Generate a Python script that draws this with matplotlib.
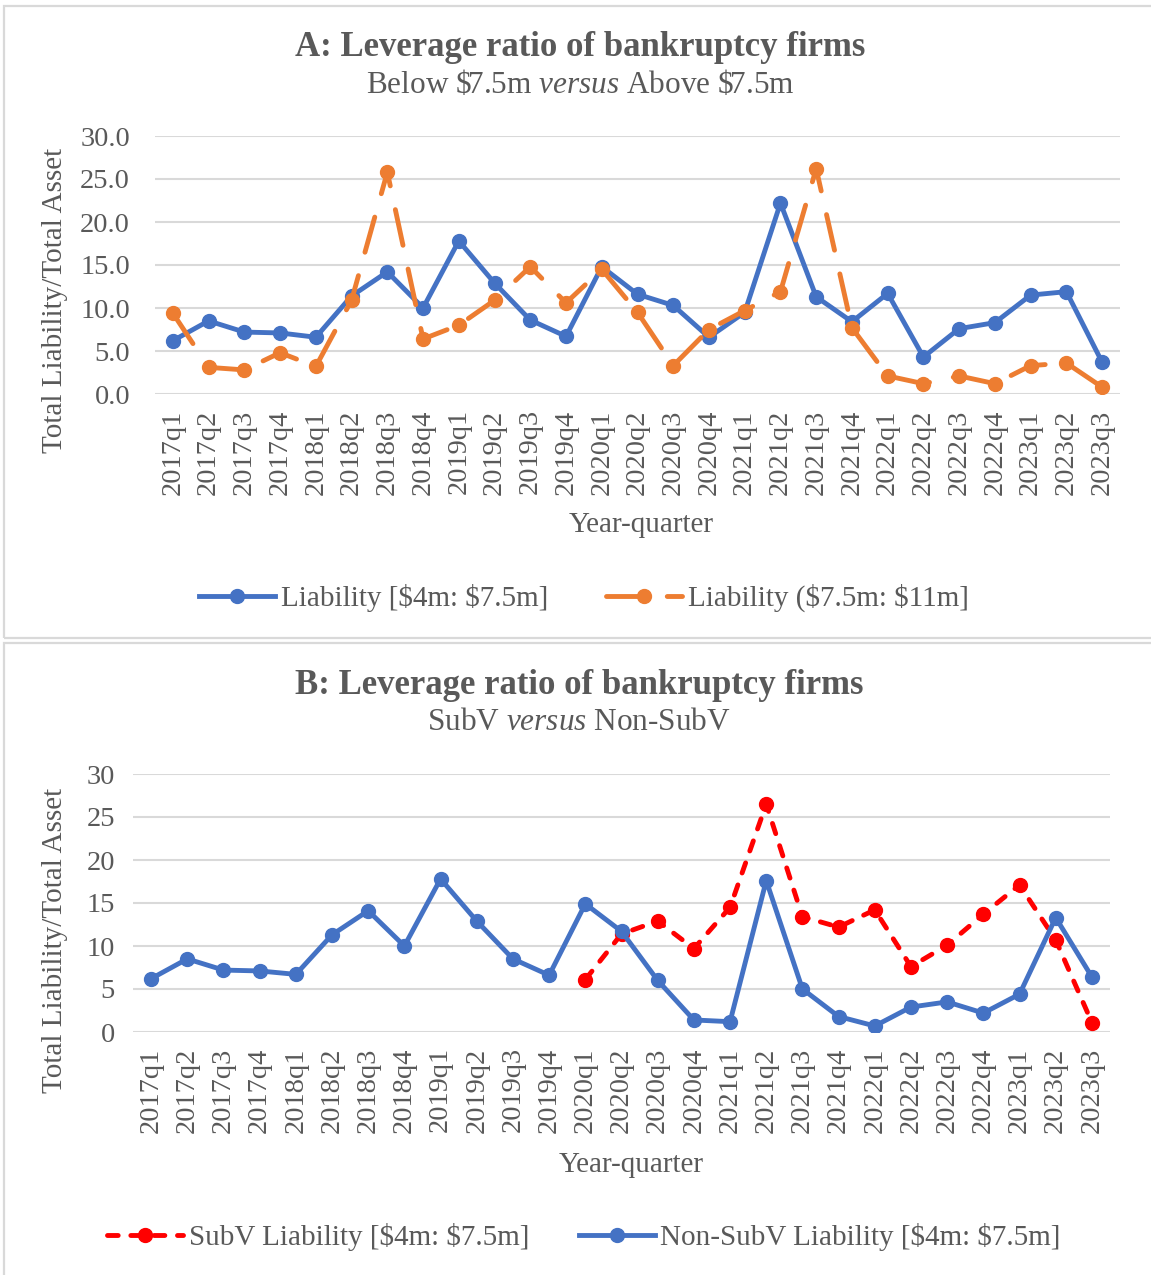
import numpy as np
import matplotlib
matplotlib.use("Agg")
import matplotlib.pyplot as plt
from matplotlib.patches import Rectangle

quarters = [f"{y}q{q}" for y in range(2017, 2024) for q in range(1, 5)][:27]

# panel A
liab_low = [6.2, 8.5, 7.2, 7.1, 6.6, 11.4, 14.2, 10.0, 17.8, 12.9, 8.6, 6.7, 14.8,
            11.6, 10.3, 6.6, 9.5, 22.2, 11.3, 8.4, 11.7, 4.3, 7.6, 8.3, 11.5, 11.9, 3.7]
liab_high = [9.4, 3.1, 2.8, 4.8, 3.2, 10.9, 25.8, 6.4, 8.0, 10.9, 14.8, 10.6, 14.5,
             9.5, 3.3, 7.5, 9.7, 11.9, 26.2, 7.7, 2.1, 1.2, 2.1, 1.2, 3.3, 3.6, 0.8]

# panel B
subv = [np.nan] * 12 + [6.1, 11.4, 12.9, 9.7, 14.5, 26.5, 13.4, 12.2, 14.2, 7.6,
                        10.1, 13.7, 17.1, 10.7, 1.1]
non_subv = [6.2, 8.5, 7.2, 7.1, 6.7, 11.3, 14.1, 10.0, 17.8, 12.9, 8.5, 6.6, 14.9,
            11.7, 6.0, 1.4, 1.2, 17.6, 5.0, 1.8, 0.7, 2.9, 3.5, 2.2, 4.4, 13.3, 6.4]

W, H = 1151, 1275
GRAY = "#595959"
BLUE, ORANGE, RED = "#4472C4", "#ED7D31", "#FF0000"
plt.rcParams.update({"font.family": "Liberation Serif", "mathtext.fontset": "custom",
                     "mathtext.rm": "Liberation Serif", "mathtext.it": "Liberation Serif:italic",
                     "text.color": GRAY})

fig = plt.figure(figsize=(W / 100, H / 100), dpi=100)


def fx(x):
    return x / W


def fy(y):
    return 1 - y / H


# panel borders
fig.add_artist(Rectangle((fx(4), fy(637.5)), 1.2, fy(5.5) - fy(637.5), transform=fig.transFigure,
                         fill=False, ec="#d9d9d9", lw=1.6))
fig.add_artist(Rectangle((fx(4), -0.1), 1.2, fy(643) + 0.1, transform=fig.transFigure,
                         fill=False, ec="#d9d9d9", lw=1.6))


def setup(ax, fmt, pad):
    ax.set_xlim(-0.5, 26.5)
    ax.set_ylim(0, 30)
    ax.set_yticks(range(0, 31, 5))
    ax.set_yticklabels([fmt.format(v) for v in range(0, 31, 5)])
    ax.set_xticks(range(27))
    ax.set_xticklabels(quarters, rotation=90)
    ax.tick_params(length=0, labelsize=20.5, labelcolor=GRAY)
    ax.tick_params(axis="y", pad=pad)
    ax.tick_params(axis="x", pad=11)
    for s in ax.spines.values():
        s.set_visible(False)
    ax.grid(True, axis="y", color="#d9d9d9", lw=1.5)
    ax.set_axisbelow(True)


x = np.arange(27)
lw, ms = 3.5, 10

axA = fig.add_axes([fx(155), fy(394), fx(1120) - fx(155), fy(136) - fy(394)])
setup(axA, "{:.1f}", 18)
axA.plot(x, liab_low, color=BLUE, lw=lw, marker="o", ms=ms, label="Liability [$4m: $7.5m]".replace("$", r"\$"))
axA.plot(x, liab_high, color=ORANGE, lw=lw, marker="o", ms=ms, dashes=(7.5, 5),
         dash_capstyle="round", label="Liability ($7.5m: $11m]".replace("$", r"\$"))
axA.legend(loc="center", bbox_to_anchor=(fx(584), fy(598)), bbox_transform=fig.transFigure,
           ncol=2, frameon=False, fontsize=21, handlelength=2.6, handletextpad=0.2,
           columnspacing=2.0, labelcolor=GRAY)

axB = fig.add_axes([fx(133), fy(1032), fx(1110) - fx(133), fy(774) - fy(1032)])
setup(axB, "{:d}", 13)
axB.plot(x, subv, color=RED, lw=lw, marker="o", ms=ms, dashes=(2.2, 2.6),
         dash_capstyle="round", label="SubV Liability [$4m: $7.5m]".replace("$", r"\$"))
axB.plot(x, non_subv, color=BLUE, lw=lw, marker="o", ms=ms,
         label="Non-SubV Liability [$4m: $7.5m]".replace("$", r"\$"))
axB.legend(loc="center", bbox_to_anchor=(fx(584), fy(1237)), bbox_transform=fig.transFigure,
           ncol=2, frameon=False, fontsize=21, handlelength=2.6, handletextpad=0.2,
           columnspacing=1.7, labelcolor=GRAY)

# titles and axis labels
fig.text(fx(580), fy(47), "A: Leverage ratio of bankruptcy firms", ha="center", va="center",
         fontsize=25, fontweight="bold")
fig.text(fx(580), fy(85), r"Below \$7.5m $\mathit{versus}$ Above \$7.5m", ha="center",
         va="center", fontsize=22.5)
fig.text(fx(579), fy(686), "B: Leverage ratio of bankruptcy firms", ha="center", va="center",
         fontsize=25, fontweight="bold")
fig.text(fx(579), fy(722), r"SubV $\mathit{versus}$ Non-SubV", ha="center", va="center",
         fontsize=22.5)

fig.text(fx(55), fy(300), "Total Liability/Total Asset", rotation=90, ha="center", va="center",
         fontsize=21)
fig.text(fx(55), fy(940), "Total Liability/Total Asset", rotation=90, ha="center", va="center",
         fontsize=21)
fig.text(fx(641), fy(525), "Year-quarter", ha="center", va="center", fontsize=21)
fig.text(fx(631), fy(1165), "Year-quarter", ha="center", va="center", fontsize=21)

fig.savefig("out.png", dpi=100)
